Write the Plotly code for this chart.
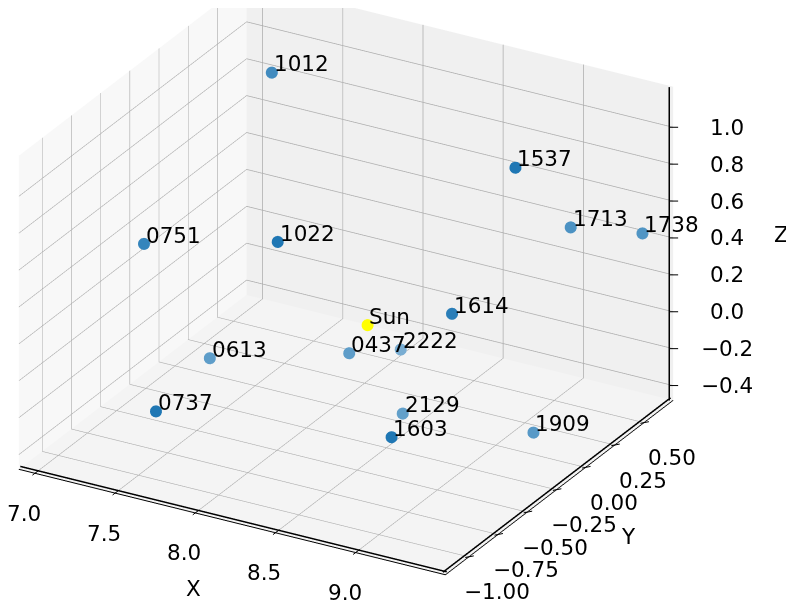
import math
import plotly.graph_objects as go

# Pulsar positions (kpc)
names = ["0437", "0613", "0737", "0751", "1012", "1022", "1537",
         "1603", "1614", "1713", "1738", "1909", "2129", "2222"]
x_vals = [8.167, 7.511, 7.658, 7.126, 7.392, 7.909, 8.926,
          8.761, 8.787, 9.093, 9.440, 9.238, 8.518, 8.287]
y_vals = [-0.112, -0.405, -1.068, -0.440, 0.289, -0.370, 0.269,
          -0.565, -0.083, 0.513, 0.651, -0.005, -0.136, 0.164]
z_vals = [-0.105, -0.131, -0.066, 0.423, 1.055, 0.568, 0.879,
          -0.213, 0.228, 0.473, 0.448, -0.357, -0.345, -0.193]

sun_name = ["Sun"]
sun_x = [8.2]
sun_y = [0.0]
sun_z = [0.0]

x_ticks = [7.0, 7.5, 8.0, 8.5, 9.0]
x_ticktext = ["7.0", "7.5", "8.0", "8.5", "9.0"]
y_ticks = [-1.0, -0.75, -0.5, -0.25, 0.0, 0.25, 0.5]
y_ticktext = ["\u22121.00", "\u22120.75", "\u22120.50", "\u22120.25", "0.00", "0.25", "0.50"]
z_ticks = [-0.4, -0.2, 0.0, 0.2, 0.4, 0.6, 0.8, 1.0]
z_ticktext = ["\u22120.4", "\u22120.2", "0.0", "0.2", "0.4", "0.6", "0.8", "1.0"]

X_RANGE = [6.9, 9.56]
Y_RANGE = [-1.2, 0.75]
Z_RANGE = [-0.48, 1.22]

# depth-shade style (alpha of C0 on white), per point
shade = [0.72, 0.72, 1.0, 0.9, 0.85, 1.0, 1.0,
         1.0, 0.95, 0.8, 0.78, 0.75, 0.7, 0.6]
base = (31, 119, 180)
colors = ["rgb(%d,%d,%d)" % tuple(round(255 - a * (255 - c)) for c in base) for a in shade]

FONT = "DejaVu Sans"
FS = 21.5

fig = go.Figure()
fig.add_trace(go.Scatter3d(
    x=x_vals, y=y_vals, z=z_vals, mode="markers",
    marker=dict(size=7, color=colors, line=dict(width=0)),
    hoverinfo="skip", showlegend=False,
))
fig.add_trace(go.Scatter3d(
    x=sun_x, y=sun_y, z=sun_z, mode="markers",
    marker=dict(size=7, color="yellow", line=dict(width=0)),
    hoverinfo="skip", showlegend=False,
))

# axis lines (mpl style: x front-bottom, y right-bottom, z back-right),
# nudged slightly inside the box so they sit on top of the panes
x0, x1 = X_RANGE
y0, y1 = Y_RANGE
z0, z1 = Z_RANGE
ex_ = (x1 - x0) * 0.006
ey_ = (y1 - y0) * 0.006
ez_ = (z1 - z0) * 0.006
for xs, ys, zs in [([x0, x1], [y0 + ey_, y0 + ey_], [z0 + ez_, z0 + ez_]),
                   ([x1 - ex_, x1 - ex_], [y0, y1], [z0 + ez_, z0 + ez_]),
                   ([x1 - ex_, x1 - ex_], [y1 - ey_, y1 - ey_], [z0, z1])]:
    fig.add_trace(go.Scatter3d(x=xs, y=ys, z=zs, mode="lines",
                               line=dict(color="black", width=3),
                               hoverinfo="skip", showlegend=False))

ann = []
def label(x, y, z, text, xs=0, ys=0, xa="center", ya="middle"):
    ann.append(dict(x=x, y=y, z=z, text=text, showarrow=False,
                    xanchor=xa, yanchor=ya, xshift=xs, yshift=ys, borderpad=0,
                    font=dict(family=FONT, size=FS, color="black")))

def tick(x, y, z, dx, dy):
    # short tick mark crossing the axis line, (dx, dy) = half length in px (dy up)
    ann.append(dict(x=x, y=y, z=z, text="", showarrow=True, arrowhead=0,
                    arrowwidth=1, arrowcolor="black", standoff=0, startstandoff=0,
                    xshift=dx, yshift=dy, ax=-2 * dx, ay=2 * dy))

for t, s in zip(x_ticks, x_ticktext):
    tick(t, y0, z0, 4, 3)
    label(t, y0, z0, s, xs=-11, ys=-40)
for t, s in zip(y_ticks, y_ticktext):
    tick(x1, t, z0, 5, 1)
    label(x1, t, z0, s, xs=28, ys=-35)
for t, s in zip(z_ticks, z_ticktext):
    tick(x1, y1, t, 5, 0)
    label(x1, y1, t, s, xs=54, ys=0)

label((x0 + x1) / 2, y0, z0, "X", xs=-39, ys=-66)
label(x1, (y0 + y1) / 2, z0, "Y", xs=69, ys=-49)
label(x1, y1, 0.42, "Z", xs=108, ys=0)

# point labels: text starts at the point, baseline at the point
for n, xv, yv, zv in zip(names, x_vals, y_vals, z_vals):
    label(xv, yv, zv, n, xs=1, ys=-5, xa="left", ya="bottom")
for n, xv, yv, zv in zip(sun_name, sun_x, sun_y, sun_z):
    label(xv, yv, zv, n, xs=1, ys=-5, xa="left", ya="bottom")

def axis(rng, tv, bg, line):
    return dict(
        title=dict(text=""), range=rng, tickvals=tv, autorange=False,
        showticklabels=False, ticks="",
        showbackground=True, backgroundcolor=bg,
        gridcolor="rgb(172,172,172)", gridwidth=1.5,
        showline=line, linecolor="black", linewidth=2,
        zeroline=False, showspikes=False,
    )

# view (matplotlib-like azimuth/elevation)
az = math.radians(-60.4)
el = math.radians(25.8)
view_dir = (math.cos(el) * math.cos(az), math.cos(el) * math.sin(az), math.sin(el))
right = (-math.sin(az), math.cos(az), 0.0)
up = (-math.sin(el) * math.cos(az), -math.sin(el) * math.sin(az), math.cos(el))
shift_r, shift_u = 0.1937, -0.1133   # pan of the view in scene units
cen = tuple(shift_r * a + shift_u * b for a, b in zip(right, up))
eye = tuple(c + 2.0 * d for c, d in zip(cen, view_dir))

fig.update_layout(
    width=794, height=609,
    paper_bgcolor="white",
    margin=dict(l=0, r=0, t=0, b=0),
    font=dict(family=FONT),
    scene=dict(
        domain=dict(x=[0.0, 1.0], y=[0.0, 1.0]),
        xaxis=axis(X_RANGE, x_ticks, "rgb(248,248,248)", True),
        yaxis=axis(Y_RANGE, y_ticks, "rgb(240,240,240)", True),
        zaxis=axis(Z_RANGE, z_ticks, "rgb(244,244,244)", False),
        aspectmode="manual",
        aspectratio=dict(x=1.611, y=1.514, z=1.144),
        camera=dict(
            eye=dict(x=eye[0], y=eye[1], z=eye[2]),
            up=dict(x=0, y=0, z=1),
            center=dict(x=cen[0], y=cen[1], z=cen[2]),
            projection=dict(type="orthographic"),
        ),
        annotations=ann,
    ),
)

fig.write_html("out.html")
